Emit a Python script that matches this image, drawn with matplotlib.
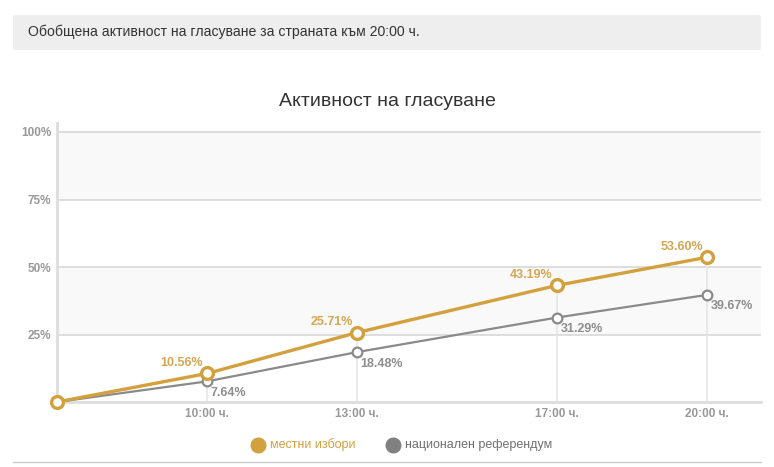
import matplotlib.pyplot as plt
from matplotlib.patches import FancyBboxPatch
from matplotlib.lines import Line2D

# data
hours = [7, 10, 13, 17, 20]
tick_labels = ['10:00 ч.', '13:00 ч.', '17:00 ч.', '20:00 ч.']
local = [0, 10.56, 25.71, 43.19, 53.60]
referendum = [0, 7.64, 18.48, 31.29, 39.67]
y_ticks = [25, 50, 75, 100]

orange = '#d3a03e'
gray = '#8a8a8a'

plt.rcParams['font.family'] = ['Liberation Sans', 'DejaVu Sans']

fig = plt.figure(figsize=(7.74, 4.67), dpi=100)

# header box
fig.patches.append(FancyBboxPatch((13 / 774, 1 - 50 / 467), 748 / 774, 35 / 467,
                                  boxstyle='round,pad=0,rounding_size=0.004',
                                  transform=fig.transFigure, facecolor='#eeeeee',
                                  edgecolor='none'))
fig.text(28 / 774, 1 - 32 / 467, 'Обобщена активност на гласуване за страната към 20:00 ч.',
         fontsize=10.1, color='#333333', va='center', ha='left')

fig.text(387 / 774, 1 - 102 / 467, 'Активност на гласуване', fontsize=14,
         color='#333333', ha='center', va='center')

ax = fig.add_axes([57 / 774, 1 - 402 / 467, (761 - 57) / 774, (402 - 123) / 467])
ax.set_xlim(7, 7 + (761 - 57) / 50)
ax.set_ylim(0, 100 * (402 - 123) / 270)

# alternating bands
ax.axhspan(75, 100, color='#f9f9f9', zorder=0, lw=0)
ax.axhspan(25, 50, color='#f9f9f9', zorder=0, lw=0)
for yv in y_ticks:
    ax.axhline(yv, color='#d8d8d8', lw=1.2, zorder=1)

# drop lines
ax.vlines(hours[1:], 0, local[1:], color='#e6e6e6', lw=1.2, zorder=1)

ax.plot(hours, referendum, color=gray, lw=1.6, marker='o', ms=7, mfc='white',
        mec=gray, mew=1.6, zorder=3, clip_on=False)
ax.plot(hours, local, color=orange, lw=2.4, marker='o', ms=8.5, mfc='white',
        mec=orange, mew=2.4, zorder=4, clip_on=False)

for h, v in zip(hours[1:], local[1:]):
    ax.annotate(f'{v:.2f}%', (h, v), xytext=(-3, 3), textcoords='offset points',
                ha='right', va='bottom', fontsize=9, fontweight='bold', color='#d4a652')
for h, v in zip(hours[1:], referendum[1:]):
    ax.annotate(f'{v:.2f}%', (h, v), xytext=(2.5, -4), textcoords='offset points',
                ha='left', va='top', fontsize=9, fontweight='bold', color='#8e8e8e')

ax.set_yticks(y_ticks)
ax.set_yticklabels([f'{t}%' for t in y_ticks])
ax.set_xticks(hours[1:])
ax.set_xticklabels(tick_labels)
ax.tick_params(length=0, colors='#999999', labelsize=8.5)
for lab in ax.get_xticklabels() + ax.get_yticklabels():
    lab.set_fontweight('bold')
ax.tick_params(axis='y', pad=4)
ax.tick_params(axis='x', pad=4)

for s in ['top', 'right']:
    ax.spines[s].set_visible(False)
ax.spines['left'].set_color('#dddddd')
ax.spines['left'].set_linewidth(2)
ax.spines['bottom'].set_color('#dddddd')
ax.spines['bottom'].set_linewidth(2)
ax.set_facecolor('white')

# legend
fig.lines.append(Line2D([258 / 774], [1 - 445 / 467], transform=fig.transFigure,
                        marker='o', ms=10.5, color=orange, lw=0))
fig.text(270 / 774, 1 - 445 / 467, 'местни избори', fontsize=9, color=orange, va='center')
fig.lines.append(Line2D([393 / 774], [1 - 445 / 467], transform=fig.transFigure,
                        marker='o', ms=10.5, color='#808080', lw=0))
fig.text(405 / 774, 1 - 445 / 467, 'национален референдум', fontsize=9, color='#707070',
         va='center')

fig.lines.append(Line2D([13 / 774, 761 / 774], [1 - 462 / 467] * 2, transform=fig.transFigure,
                        color='#cccccc', lw=1))

fig.savefig('out.png', dpi=100)
